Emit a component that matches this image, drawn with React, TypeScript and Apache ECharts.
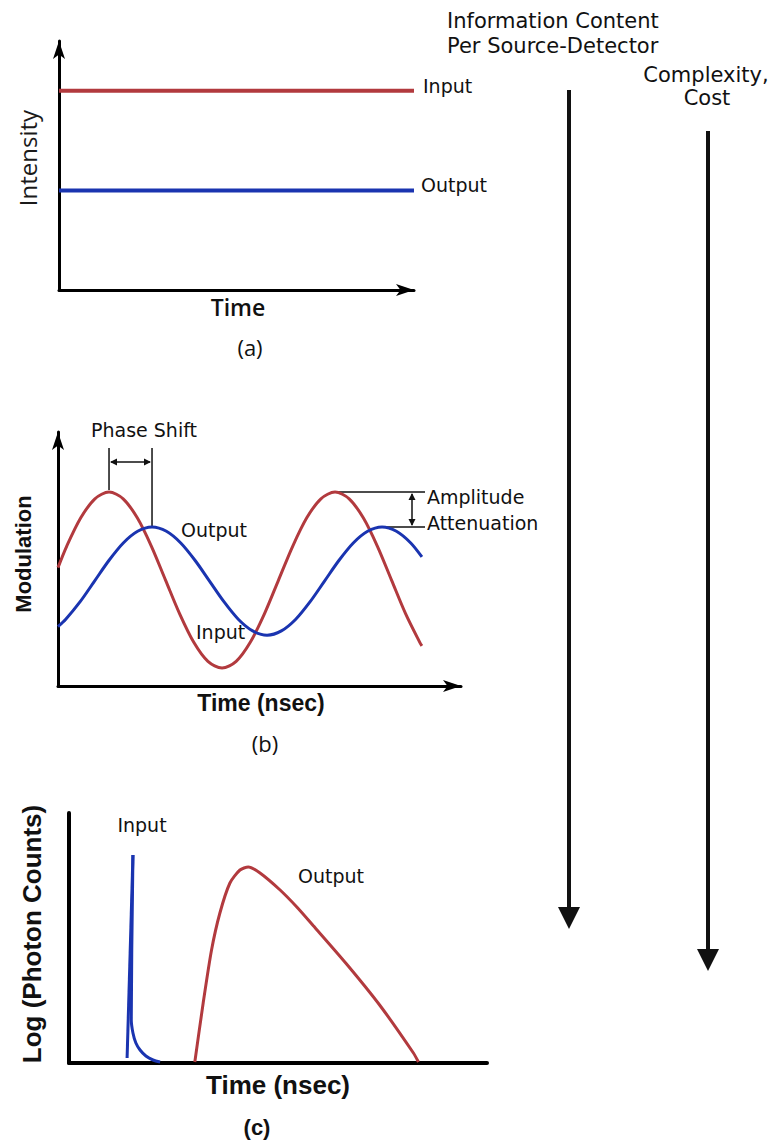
import React, { useEffect, useRef } from "react";
import * as echarts from "echarts";

// Panel (a): steady-state intensity (time units 0..10, intensity 0..10)
const ssInput: [number, number][] = [[0, 8], [10, 8]];
const ssOutput: [number, number][] = [[0, 4], [10, 4]];

// Panel (b): modulated signals (time 0..10, modulation 0..10)
const modInput: [number, number][] = [
  [0, 4.66], [0.215, 5.5], [0.565, 6.62], [0.916, 7.37], [1.266, 7.635], [1.617, 7.37],
  [1.967, 6.62], [2.318, 5.5], [2.668, 4.17], [3.019, 2.84], [3.369, 1.72], [3.72, 0.97],
  [4.07, 0.705], [4.421, 0.97], [4.771, 1.72], [5.122, 2.84], [5.472, 4.17], [5.823, 5.5],
  [6.173, 6.62], [6.524, 7.37], [6.874, 7.635], [7.225, 7.37], [7.575, 6.62], [7.926, 5.5],
  [8.276, 4.17], [8.627, 2.84], [8.977, 1.72], [9.03, 1.58],
];
const modOutput: [number, number][] = [
  [0, 2.34], [0.193, 2.63], [0.55, 3.32], [0.906, 4.13], [1.263, 4.94], [1.62, 5.63],
  [1.976, 6.09], [2.333, 6.26], [2.69, 6.09], [3.046, 5.63], [3.403, 4.94], [3.76, 4.13],
  [4.117, 3.32], [4.473, 2.63], [4.83, 2.17], [5.187, 2.0], [5.543, 2.17], [5.9, 2.63],
  [6.257, 3.32], [6.613, 4.13], [6.97, 4.94], [7.327, 5.63], [7.683, 6.09], [8.04, 6.26],
  [8.397, 6.09], [8.753, 5.63], [9.03, 5.08],
];

// Panel (c): time-resolved photon counts (time 0..10, log counts 0..10)
const tdInputRise: [number, number][] = [[1.39, 0.2], [1.53, 8.32]];
const tdInputTail: [number, number][] = [
  [1.53, 8.32], [1.49, 1.72], [1.53, 1.2], [1.6, 0.8], [1.7, 0.52], [1.84, 0.28],
  [2.01, 0.12], [2.18, 0.04],
];
const tdOutput: [number, number][] = [
  [3.01, 0.04], [3.21, 2.4], [3.41, 4.52], [3.61, 6.0], [3.85, 7.2], [4.09, 7.72],
  [4.29, 7.84], [4.57, 7.6], [5.05, 6.92], [5.45, 6.24], [5.84, 5.5], [6.64, 3.96],
  [7.44, 2.3], [8.24, 0.4], [8.36, 0.04],
];

const RED = "#b23a3e";
const BLUE = "#1a34b0";
const LABEL_FONT = '"DejaVu Sans", sans-serif';
const TITLE_FONT = '"Liberation Sans", Arial, sans-serif';
const OPEN_FONT = '"Open Sans", sans-serif';

function txt(text: string, x: number, y: number, o: any = {}) {
  return {
    type: "text",
    x,
    y,
    rotation: o.rotation || 0,
    silent: true,
    style: {
      text,
      fill: o.fill || "#111",
      fontSize: o.fontSize || 19,
      fontFamily: o.fontFamily || LABEL_FONT,
      fontWeight: o.fontWeight || "normal",
      align: o.align || "left",
      verticalAlign: "middle",
    },
  };
}

function seg(x1: number, y1: number, x2: number, y2: number, w = 1.5) {
  return {
    type: "line",
    silent: true,
    shape: { x1, y1, x2, y2 },
    style: { stroke: "#111", lineWidth: w },
  };
}

function head(x: number, y: number, dir: string, len = 7, hw = 3.5) {
  let pts: number[][] = [];
  if (dir === "up") pts = [[x, y], [x - hw, y + len], [x + hw, y + len]];
  if (dir === "down") pts = [[x, y], [x - hw, y - len], [x + hw, y - len]];
  if (dir === "left") pts = [[x, y], [x + len, y - hw], [x + len, y + hw]];
  if (dir === "right") pts = [[x, y], [x - len, y - hw], [x - len, y + hw]];
  return { type: "polygon", silent: true, shape: { points: pts }, style: { fill: "#111" } };
}

function axisPair(gridIndex: number, arrow: boolean, width: number) {
  const line = {
    show: true,
    onZero: false,
    lineStyle: { color: "#000", width },
    symbol: arrow ? ["none", "arrow"] : ["none", "none"],
    symbolSize: [9, 18],
  };
  const common = {
    type: "value",
    gridIndex,
    min: 0,
    max: 10,
    axisLine: line,
    axisTick: { show: false },
    axisLabel: { show: false },
    splitLine: { show: false },
  };
  return { x: { ...common }, y: { ...common } };
}

export default function App() {
  const ref = useRef<HTMLDivElement>(null);

  useEffect(() => {
    if (!ref.current) return;
    const chart = echarts.init(ref.current, null, { renderer: "svg" });
    const a = axisPair(0, true, 3);
    const b = axisPair(1, true, 3);
    const c = axisPair(2, false, 4);
    chart.setOption({
      animation: false,
      backgroundColor: "#ffffff",
      grid: [
        { left: 59, top: 41, width: 355, height: 249 },
        { left: 58, top: 432, width: 403, height: 254 },
        { left: 69, top: 813, width: 418, height: 250 },
      ],
      xAxis: [a.x, b.x, c.x],
      yAxis: [a.y, b.y, c.y],
      series: [
        { type: "line", xAxisIndex: 0, yAxisIndex: 0, data: ssInput, showSymbol: false, lineStyle: { color: RED, width: 4 }, z: 1 },
        { type: "line", xAxisIndex: 0, yAxisIndex: 0, data: ssOutput, showSymbol: false, lineStyle: { color: BLUE, width: 4 }, z: 1 },
        { type: "line", xAxisIndex: 1, yAxisIndex: 1, data: modInput, showSymbol: false, smooth: 0.3, lineStyle: { color: RED, width: 3 } },
        { type: "line", xAxisIndex: 1, yAxisIndex: 1, data: modOutput, showSymbol: false, smooth: 0.3, lineStyle: { color: BLUE, width: 3 } },
        { type: "line", xAxisIndex: 2, yAxisIndex: 2, data: tdInputRise, showSymbol: false, lineStyle: { color: BLUE, width: 3 } },
        { type: "line", xAxisIndex: 2, yAxisIndex: 2, data: tdInputTail, showSymbol: false, smooth: 0.3, lineStyle: { color: BLUE, width: 3 } },
        { type: "line", xAxisIndex: 2, yAxisIndex: 2, data: tdOutput, showSymbol: false, smooth: 0.25, lineStyle: { color: RED, width: 3 } },
      ],
    });

    const px = (g: number, p: [number, number]) =>
      chart.convertToPixel({ gridIndex: g } as any, p) as number[];

    const rp1 = px(1, modInput[4]);
    const bp1 = px(1, modOutput[7]);
    const rp2 = px(1, modInput[20]);
    const bp2 = px(1, modOutput[23]);
    const ampX = 412;
    const ampEnd = 425;

    const graphic: any[] = [
      // Panel (a)
      txt("Input", 423, 86),
      txt("Output", 421, 185),
      txt("Intensity", 27, 158, { rotation: Math.PI / 2, align: "center", fontSize: 24, fontFamily: OPEN_FONT, fill: "#1a1a1a" }),
      txt("Time", 238, 307, { align: "center", fontSize: 23, fontFamily: OPEN_FONT, fontWeight: 600 }),
      txt("(a)", 250, 347, { align: "center", fontSize: 22, fontFamily: OPEN_FONT }),

      // Panel (b)
      txt("Phase Shift", 144, 430),
      seg(rp1[0], 448, rp1[0], rp1[1] - 2),
      seg(bp1[0], 448, bp1[0], bp1[1]),
      seg(rp1[0] + 2, 462, bp1[0] - 2, 462),
      head(rp1[0] + 1, 462, "left"),
      head(bp1[0] - 1, 462, "right"),
      seg(rp2[0], rp2[1], ampEnd, rp2[1]),
      seg(bp2[0], bp2[1], ampEnd, bp2[1]),
      seg(ampX, rp2[1] + 2, ampX, bp2[1] - 2),
      head(ampX, rp2[1] + 1, "up"),
      head(ampX, bp2[1] - 1, "down"),
      txt("Amplitude", 427, 497),
      txt("Attenuation", 427, 523),
      txt("Output", 181, 530),
      txt("Input", 196, 632),
      txt("Modulation", 23, 554, { rotation: Math.PI / 2, align: "center", fontSize: 22, fontFamily: TITLE_FONT, fontWeight: "bold" }),
      txt("Time (nsec)", 261, 703, { align: "center", fontSize: 23, fontFamily: TITLE_FONT, fontWeight: "bold" }),
      txt("(b)", 265, 743, { align: "center", fontSize: 22, fontFamily: OPEN_FONT }),

      // Panel (c)
      txt("Input", 142, 825, { align: "center" }),
      txt("Output", 298, 876),
      txt("Log (Photon Counts)", 32, 934, { rotation: Math.PI / 2, align: "center", fontSize: 26, fontFamily: TITLE_FONT, fontWeight: "bold" }),
      txt("Time (nsec)", 278, 1085, { align: "center", fontSize: 26, fontFamily: TITLE_FONT, fontWeight: "bold" }),
      txt("(c)", 257, 1127, { align: "center", fontSize: 22, fontFamily: TITLE_FONT, fontWeight: "bold" }),

      // Right-hand trend arrows
      txt("Information Content", 447, 21, { fontSize: 21 }),
      txt("Per Source-Detector", 447, 46, { fontSize: 21 }),
      txt("Complexity,", 706, 75, { align: "center", fontSize: 21 }),
      txt("Cost", 707, 98, { align: "center", fontSize: 21 }),
      seg(569, 90, 569, 912, 4),
      head(569, 929, "down", 22, 11),
      seg(708, 131, 708, 953, 4),
      head(708, 971, "down", 22, 11),
    ];
    // Phase Shift label is centred over the shift markers
    (graphic[5] as any).style.align = "center";

    chart.setOption({ graphic });

    return () => chart.dispose();
  }, []);

  return (
    <div
      ref={ref}
      style={{ position: "absolute", left: 0, top: 0, width: 775, height: 1141, background: "#fff" }}
    />
  );
}
